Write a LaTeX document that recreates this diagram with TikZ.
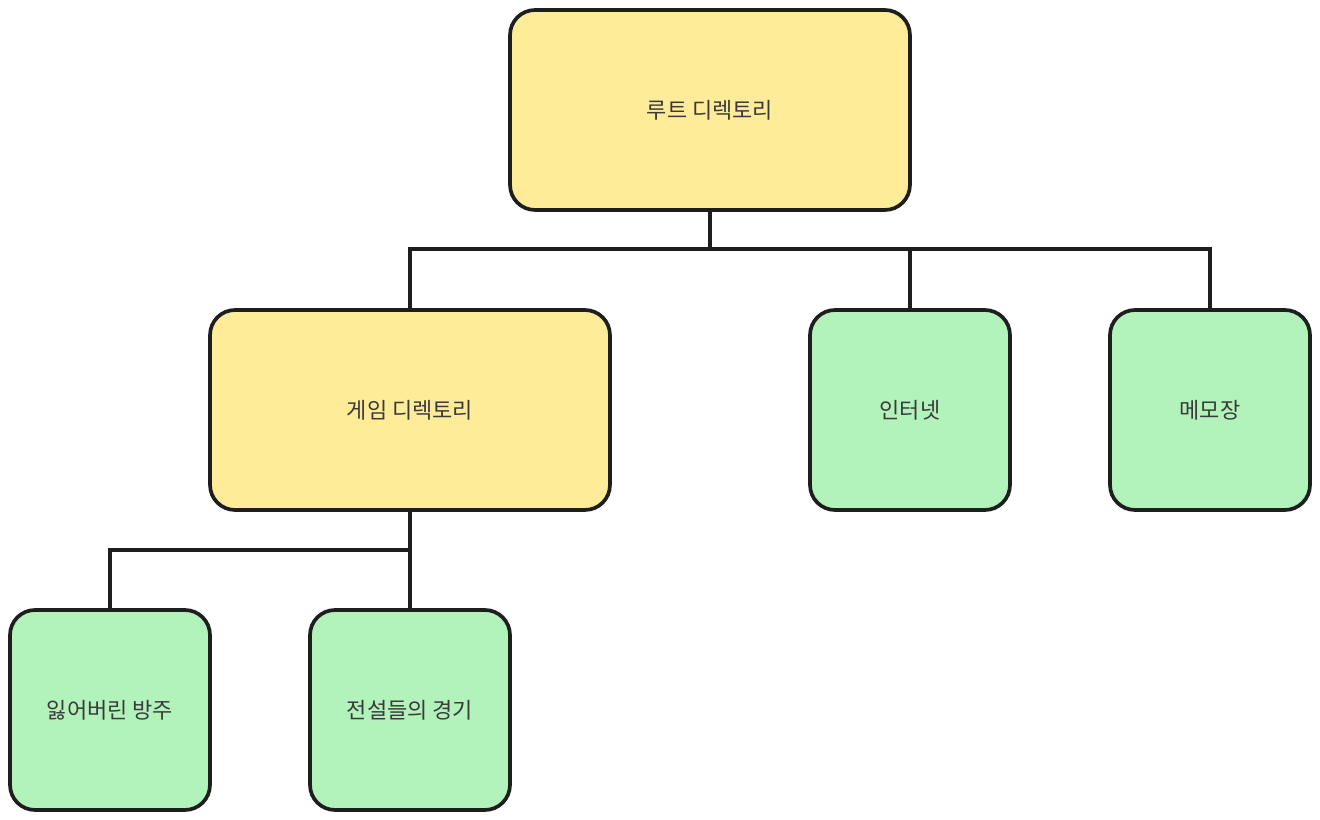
\documentclass[tikz,border=0pt]{standalone}
\usepackage{fontspec}
\newfontfamily\kr{Noto Sans CJK KR}
\definecolor{boxyellow}{HTML}{FFEC99}
\definecolor{boxgreen}{HTML}{B2F2BB}
\definecolor{ink}{HTML}{1E1E1E}
\definecolor{txt}{HTML}{3A3A3A}
\begin{document}
\begin{tikzpicture}[x=0.02cm,y=-0.02cm,
  box/.style={draw=ink, line width=2.1pt, rounded corners=0.5cm, font=\kr\fontsize{12.5}{15}\selectfont, text=txt, inner sep=0pt},
  bigbox/.style={box, fill=boxyellow, minimum width=8cm, minimum height=4cm},
  leaf/.style={box, fill=boxgreen, minimum width=4cm, minimum height=4cm},
  link/.style={draw=ink, line width=2.1pt}]
\useasboundingbox (0,0) rectangle (1320,820);
\node[bigbox] (root) at (710,110) {루트 디렉토리};
\node[bigbox] (game) at (410,410) {게임 디렉토리};
\node[leaf] (net) at (910,410) {인터넷};
\node[leaf] (memo) at (1210,410) {메모장};
\node[leaf] (ark) at (110,710) {잃어버린 방주};
\node[leaf] (leg) at (410,710) {전설들의 경기};
\coordinate (j1) at (710,249);
\coordinate (j2) at (410,550);
\draw[link] (root.south) -- (j1);
\draw[link] (game.north) |- (j1) -| (memo.north);
\draw[link] (j1) -| (net.north);
\draw[link] (game.south) -- (j2);
\draw[link] (leg.north) -- (j2) -| (ark.north);
\end{tikzpicture}
\end{document}
